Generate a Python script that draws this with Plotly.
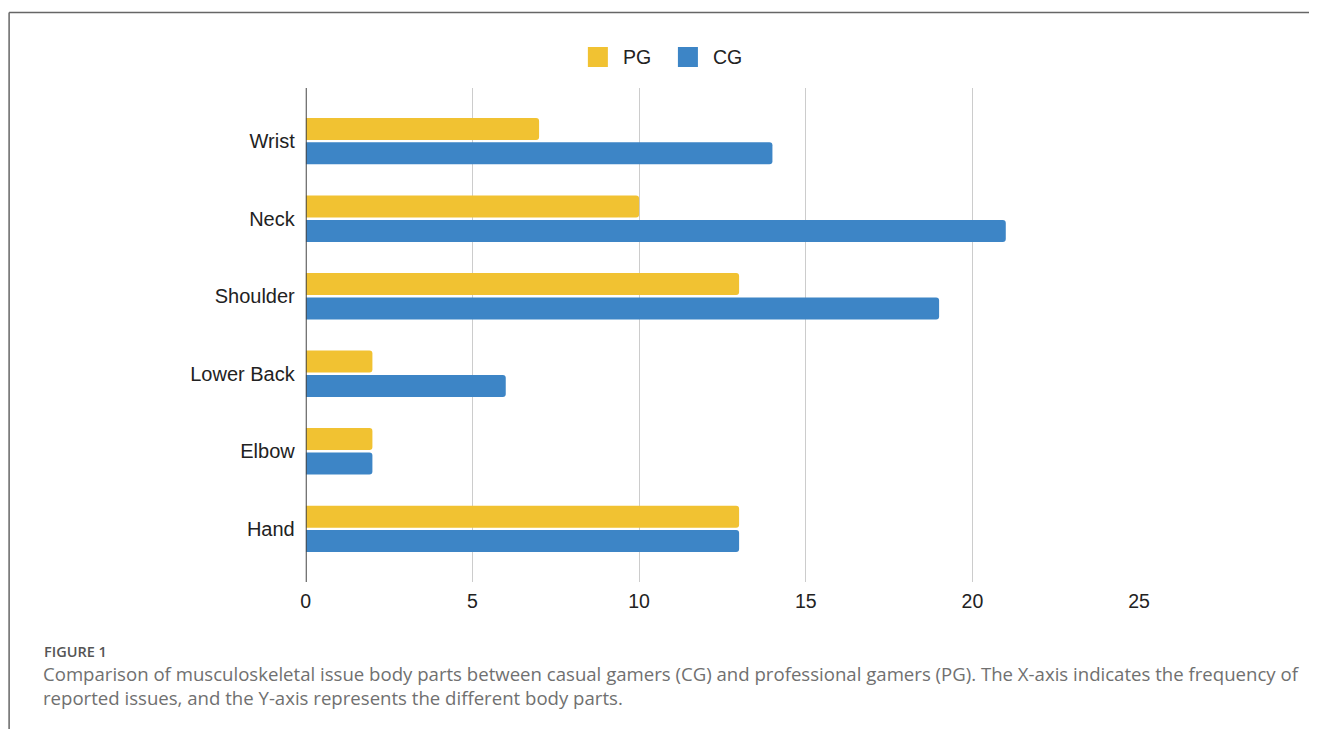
import plotly.graph_objects as go

# Body parts (top to bottom) and frequency of reported issues per group
body_parts = ["Wrist", "Neck", "Shoulder", "Lower Back", "Elbow", "Hand"]
pg_counts = [7, 10, 13, 2, 2, 13]
cg_counts = [14, 21, 19, 6, 2, 13]
x_ticks = [0, 5, 10, 15, 20, 25]
series_names = ["PG", "CG"]
caption_lines = [
    "Comparison of musculoskeletal issue body parts between casual gamers (CG) "
    "and professional gamers (PG). The X-axis indicates the frequency of",
    "reported issues, and the Y-axis represents the different body parts.",
]

W, H = 1320, 729
PG_COLOR = "#F1C232"
CG_COLOR = "#3D85C6"
FONT = "Liberation Sans, Arial, sans-serif"
CAPTION_FONT = "Open Sans, Noto Sans, sans-serif"

fig = go.Figure()
fig.add_trace(go.Bar(y=body_parts, x=pg_counts, name=series_names[0], orientation="h",
                     marker=dict(color=PG_COLOR, line=dict(width=0))))
fig.add_trace(go.Bar(y=body_parts, x=cg_counts, name=series_names[1], orientation="h",
                     marker=dict(color=CG_COLOR, line=dict(width=0))))

# plot area in pixel terms, converted to paper fractions
px_left, px_right = 306, 1139
px_top, px_bottom = 88, 582

# horizontal page offset / usable width of the rendered page
X_OFF, X_SPAN = 5.4, 1303.4


def px(x):
    return min(max((x - X_OFF) / X_SPAN, 0.0), 1.0)


def py(y):
    return 1 - y / H


fig.update_layout(
    width=W, height=H,
    margin=dict(l=0, r=0, t=0, b=0),
    paper_bgcolor="white", plot_bgcolor="white",
    barmode="group", bargap=0.37, bargroupgap=0.1, barcornerradius=3,
    font=dict(family=FONT, size=20, color="#222222"),
    showlegend=False,
    xaxis=dict(domain=[px(px_left), px(px_right)], range=[0, 25],
               tickvals=x_ticks, showgrid=True, gridcolor="#CCCCCC",
               gridwidth=1.3, zeroline=False, showline=False,
               ticks="", ticklabelstandoff=5,
               tickfont=dict(family=FONT, size=19.5, color="#222222")),
    yaxis=dict(domain=[py(px_bottom), py(px_top)],
               categoryorder="array", categoryarray=body_parts,
               range=[5.685, -0.685], showgrid=False, zeroline=False,
               showline=False, ticks="", ticklabelstandoff=10,
               tickfont=dict(family=FONT, size=20, color="#222222")),
)

# dark vertical axis line at x = 0
fig.add_shape(type="line", xref="x", yref="paper", x0=0, x1=0,
              y0=py(px_bottom), y1=py(px_top),
              line=dict(color="#444444", width=2), layer="above")

# legend: colour squares with series names
legend_items = [(series_names[0], PG_COLOR, 588), (series_names[1], CG_COLOR, 678)]
for name, color, x0 in legend_items:
    fig.add_shape(type="rect", xref="paper", yref="paper",
                  x0=px(x0), x1=px(x0 + 20), y0=py(67), y1=py(47),
                  fillcolor=color, line=dict(width=0))
    fig.add_annotation(xref="paper", yref="paper", x=px(x0 + 33), y=py(57),
                       xanchor="left", yanchor="middle", showarrow=False,
                       text=name, font=dict(family=FONT, size=19.5, color="#222222"))

# figure frame (top and left edges)
fig.add_shape(type="line", xref="paper", yref="paper",
              x0=px(9.5), x1=1.0, y0=py(12.5), y1=py(12.5),
              line=dict(color="#666666", width=1.5))
fig.add_shape(type="line", xref="paper", yref="paper",
              x0=px(9.5), x1=px(9.5), y0=0, y1=py(12.5),
              line=dict(color="#666666", width=1.5))

# caption
fig.add_annotation(xref="paper", yref="paper", x=px(42), y=py(651),
                   xanchor="left", yanchor="middle", showarrow=False,
                   text="FIGURE 1",
                   font=dict(family=CAPTION_FONT, size=14.5, color="#555555", weight=600))
fig.add_annotation(xref="paper", yref="paper", x=px(41), y=py(685.5),
                   xanchor="left", yanchor="middle", align="left", showarrow=False,
                   text="<br>".join(caption_lines),
                   font=dict(family=CAPTION_FONT, size=18.6, color="#707070"))

fig.write_html(
    "out.html",
    post_script="document.body.style.margin='0';document.body.style.overflow='hidden';",
)
